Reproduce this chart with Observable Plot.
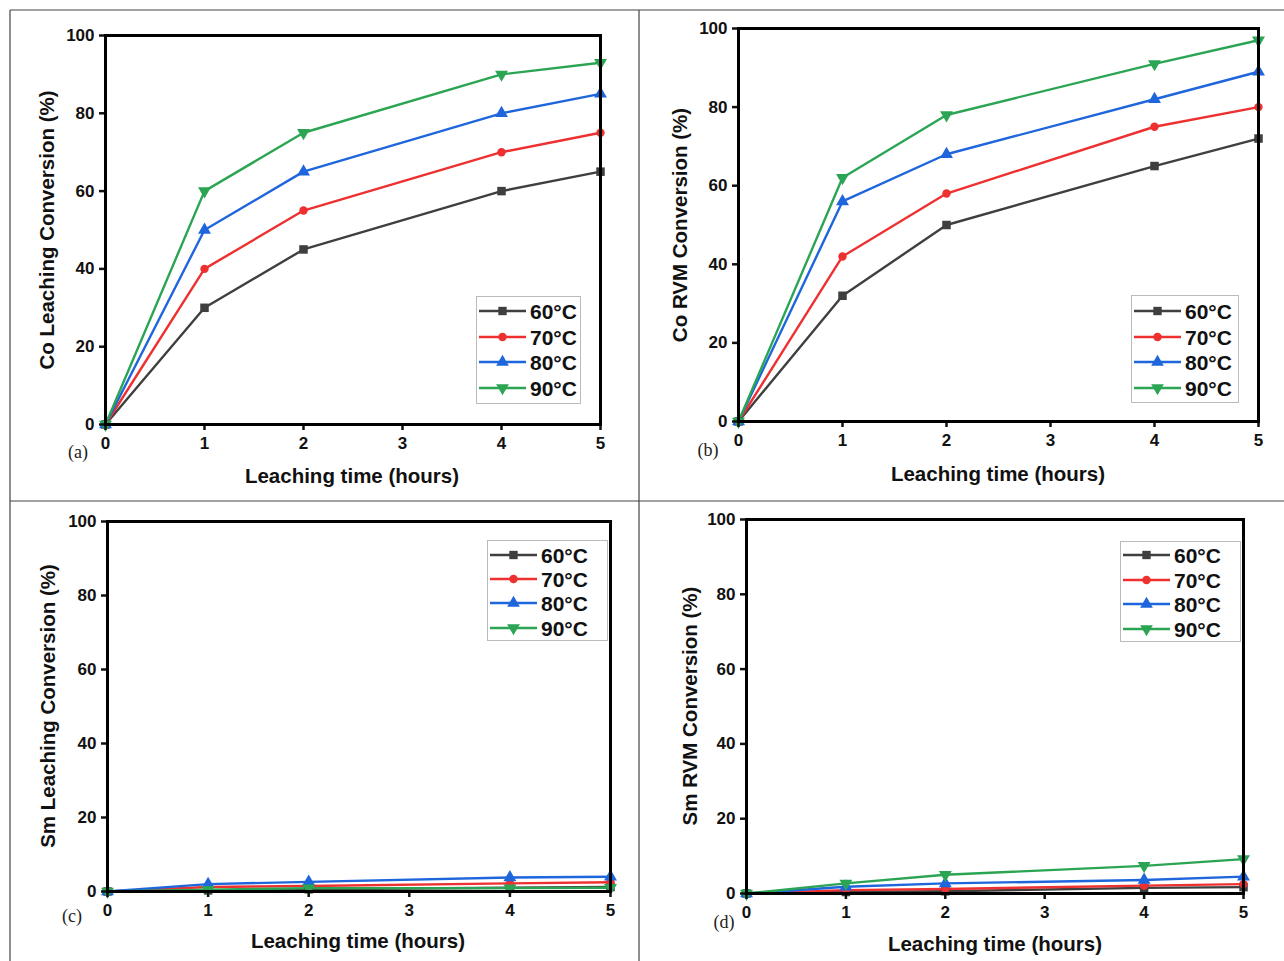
<!DOCTYPE html>
<html>
<head>
<meta charset="utf-8">
<script src="https://cdn.jsdelivr.net/npm/d3@7"></script>
<script src="https://cdn.jsdelivr.net/npm/@observablehq/plot@0.6"></script>
<style>
  body { margin:0; background:#fff; }
  #root { position:relative; width:1284px; height:961px; overflow:hidden; background:#fff; font-family:"Liberation Sans", Arial, sans-serif; }
  .abs { position:absolute; }
  .xt { font-weight:bold; font-size:20.5px; color:#111; white-space:nowrap; transform:translate(-50%,-50%); }
  .yt { font-weight:bold; font-size:20.5px; color:#111; white-space:nowrap; transform:translate(-50%,-50%) rotate(-90deg); }
  .pl { font-family:"Liberation Serif", "Times New Roman", serif; font-size:18px; color:#222; transform:translate(-50%,-50%); }
</style>
</head>
<body>
<div id="root"></div>
<script>
// ---- data ----
const times = [0, 1, 2, 4, 5];
const xTicks = [0, 1, 2, 3, 4, 5];
const yTicks = [0, 20, 40, 60, 80, 100];
const temps = ["60°C", "70°C", "80°C", "90°C"];
const colors = ["#3f3f3f", "#ee3030", "#1f66dd", "#2ba553"];

// series per temperature (60, 70, 80, 90 °C)
const coLeaching = [
  [0, 30, 45, 60, 65],
  [0, 40, 55, 70, 75],
  [0, 50, 65, 80, 85],
  [0, 60, 75, 90, 93]
];
const coRVM = [
  [0, 32, 50, 65, 72],
  [0, 42, 58, 75, 80],
  [0, 56, 68, 82, 89],
  [0, 62, 78, 91, 97]
];
const smLeaching = [
  [0, 0.3, 0.6, 1.0, 1.2],
  [0, 1.2, 1.5, 2.2, 2.5],
  [0, 2.0, 2.6, 3.8, 4.0],
  [0, 0.5, 0.9, 0.9, 1.0]
];
const smRVM = [
  [0, 0.4, 0.6, 1.5, 1.7],
  [0, 0.9, 1.2, 2.1, 2.5],
  [0, 1.8, 2.7, 3.6, 4.5],
  [0, 2.7, 5.0, 7.4, 9.2]
];

const panels = [
  {id:"(a)", data:coLeaching, ylabel:"Co Leaching Conversion (%)", L:105, R:600, T:35, B:424,
   ytx:47, xtx:352, xty:476, plx:78, ply:452, leg:{x:476, y:296, w:104, h:107, rows:[311,337,362,388]}},
  {id:"(b)", data:coRVM, ylabel:"Co RVM Conversion (%)", L:738, R:1258, T:28, B:421,
   ytx:680, xtx:998, xty:474, plx:708, ply:450, leg:{x:1131, y:295, w:107, h:107, rows:[311,337,362,388]}},
  {id:"(c)", data:smLeaching, ylabel:"Sm Leaching Conversion (%)", L:107, R:610, T:521, B:891,
   ytx:48, xtx:358, xty:941, plx:72, ply:916, leg:{x:487, y:540, w:120, h:100, rows:[555,579,603,628]}},
  {id:"(d)", data:smRVM, ylabel:"Sm RVM Conversion (%)", L:746, R:1243, T:519, B:893,
   ytx:690, xtx:995, xty:944, plx:724, ply:922, leg:{x:1120, y:541, w:120, h:100, rows:[555,580,604,629]}}
];

// custom downward triangle symbol
const triangleDown = {
  draw(ctx, size) {
    const y = -Math.sqrt(size / (3 * Math.sqrt(3)));
    ctx.moveTo(0, -2 * y);
    ctx.lineTo(-Math.sqrt(3) * y, y);
    ctx.lineTo(Math.sqrt(3) * y, y);
    ctx.closePath();
  }
};
const symbols = [d3.symbolSquare, d3.symbolCircle, d3.symbolTriangle, triangleDown];
const plotSymbols = ["square", "circle", "triangle", triangleDown];

const root = document.getElementById("root");

// panel separators
const sep = d3.select(root).append("svg").attr("class","abs")
  .style("left","0px").style("top","0px").attr("width",1284).attr("height",961);
sep.append("line").attr("x1",10).attr("y1",10).attr("x2",1284).attr("y2",10).attr("stroke","#444").attr("stroke-width",1.2);
sep.append("line").attr("x1",10).attr("y1",10).attr("x2",10).attr("y2",961).attr("stroke","#444").attr("stroke-width",1.2);
sep.append("line").attr("x1",639).attr("y1",10).attr("x2",639).attr("y2",961).attr("stroke","#444").attr("stroke-width",1.2);
sep.append("line").attr("x1",10).attr("y1",501).attr("x2",1284).attr("y2",501).attr("stroke","#444").attr("stroke-width",1.2);

const ml = 60, mr = 16, mt = 16, mb = 34;

panels.forEach(p => {
  const rows = temps.flatMap((t, i) => times.map((x, j) => ({x, y: p.data[i][j], t, i})));
  const marks = [];
  temps.forEach((t, i) => {
    const s = rows.filter(d => d.i === i);
    marks.push(Plot.line(s, {x:"x", y:"y", stroke: colors[i], strokeWidth: 2.4}));
  });
  temps.forEach((t, i) => {
    const s = rows.filter(d => d.i === i);
    marks.push(Plot.dot(s, {x:"x", y:"y", fill: colors[i], stroke: "none", symbol: plotSymbols[i], r: i === 1 ? 4.2 : 4.8}));
  });
  marks.push(Plot.axisX({ticks: xTicks, tickFormat: d3.format("d"), tickSize: 6, tickPadding: 6, label: null, strokeWidth: 2.5, fontSize: 17, fontWeight: "bold"}));
  marks.push(Plot.axisY({ticks: yTicks, tickFormat: d3.format("d"), tickSize: 6, tickPadding: 5, label: null, strokeWidth: 2.5, fontSize: 17, fontWeight: "bold"}));
  marks.push(Plot.frame({stroke: "#000", strokeWidth: 3}));

  const chart = Plot.plot({
    width: (p.R - p.L) + ml + mr,
    height: (p.B - p.T) + mt + mb,
    marginLeft: ml, marginRight: mr, marginTop: mt, marginBottom: mb,
    x: {domain: [0, 5]},
    y: {domain: [0, 100]},
    style: {fontFamily: "'Liberation Sans', Arial, sans-serif", fontSize: "17px", fontWeight: "bold", color: "#111", background: "transparent", overflow: "visible"},
    marks
  });
  chart.classList.add("abs");
  chart.style.left = (p.L - ml) + "px";
  chart.style.top = (p.T - mt) + "px";
  root.appendChild(chart);

  // titles
  const yt = document.createElement("div");
  yt.className = "abs yt"; yt.textContent = p.ylabel;
  yt.style.left = p.ytx + "px"; yt.style.top = ((p.T + p.B) / 2) + "px";
  root.appendChild(yt);
  const xt = document.createElement("div");
  xt.className = "abs xt"; xt.textContent = "Leaching time (hours)";
  xt.style.left = p.xtx + "px"; xt.style.top = p.xty + "px";
  root.appendChild(xt);
  const pl = document.createElement("div");
  pl.className = "abs pl"; pl.textContent = p.id;
  pl.style.left = p.plx + "px"; pl.style.top = p.ply + "px";
  root.appendChild(pl);

  // legend
  const lg = p.leg;
  const svg = d3.select(root).append("svg").attr("class","abs")
    .style("left", lg.x + "px").style("top", lg.y + "px")
    .attr("width", lg.w + 2).attr("height", lg.h + 2);
  svg.append("rect").attr("x",0.5).attr("y",0.5).attr("width",lg.w).attr("height",lg.h)
    .attr("fill","#fff").attr("stroke","#bbb").attr("stroke-width",1);
  temps.forEach((t, i) => {
    const cy = lg.rows[i] - lg.y;
    svg.append("line").attr("x1",3).attr("x2",50).attr("y1",cy).attr("y2",cy)
      .attr("stroke",colors[i]).attr("stroke-width",2.6);
    svg.append("path").attr("d", d3.symbol(symbols[i], i === 1 ? 56 : 70)())
      .attr("transform",`translate(26.5,${cy})`).attr("fill",colors[i]);
    svg.append("text").attr("x",54).attr("y",cy).attr("dy","0.36em")
      .attr("font-family","'Liberation Sans', Arial, sans-serif").attr("font-weight","bold")
      .attr("font-size",21).attr("fill","#111").text(t);
  });
});
</script>
</body>
</html>
